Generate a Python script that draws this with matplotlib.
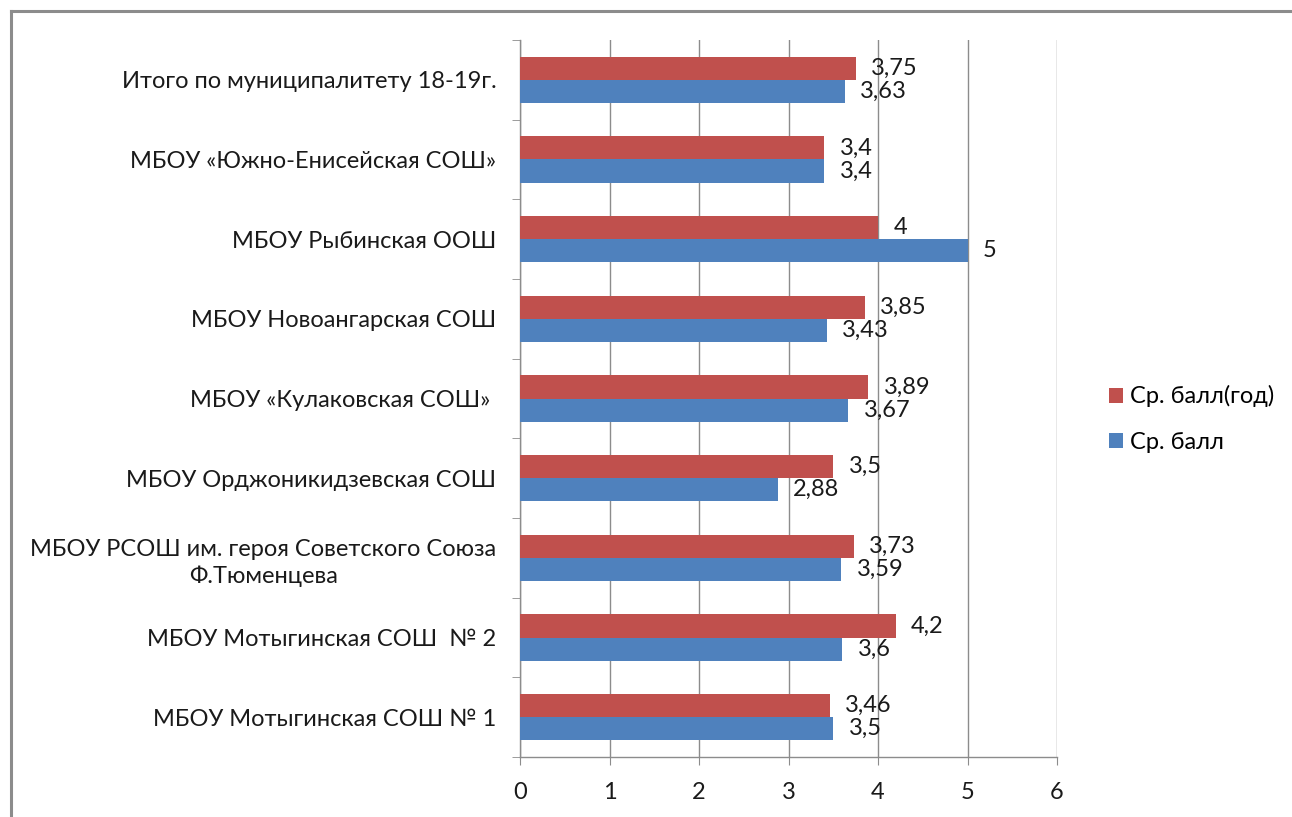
import matplotlib
matplotlib.use("Agg")
import matplotlib.pyplot as plt
from matplotlib.lines import Line2D
import numpy as np

categories = [
    "МБОУ Мотыгинская СОШ № 1",
    "МБОУ Мотыгинская СОШ  № 2",
    "МБОУ РСОШ им. героя Советского Союза\nФ.Тюменцева",
    "МБОУ Орджоникидзевская СОШ",
    "МБОУ «Кулаковская СОШ» ",
    "МБОУ Новоангарская СОШ",
    "МБОУ Рыбинская ООШ",
    "МБОУ «Южно-Енисейская СОШ»",
    "Итого по муниципалитету 18-19г.",
]
year_avg = [3.46, 4.2, 3.73, 3.5, 3.89, 3.85, 4, 3.4, 3.75]
avg = [3.5, 3.6, 3.59, 2.88, 3.67, 3.43, 5, 3.4, 3.63]
year_labels = ["3,46", "4,2", "3,73", "3,5", "3,89", "3,85", "4", "3,4", "3,75"]
avg_labels = ["3,5", "3,6", "3,59", "2,88", "3,67", "3,43", "5", "3,4", "3,63"]
series_names = ["Ср. балл(год)", "Ср. балл"]
xticks = [0, 1, 2, 3, 4, 5, 6]

RED = "#C0504D"
BLUE = "#4F81BD"
GRID = "#8C8C8C"
TXT = "#1a1a1a"
FS = 17

plt.rcParams['font.family'] = ['Lato', 'DejaVu Sans']

W, H = 1292, 817
fig = plt.figure(figsize=(W / 100, H / 100), dpi=100)
ax = fig.add_axes([520 / W, 1 - 757 / H, (1057 - 520) / W, (757 - 40) / H])

y = np.arange(len(categories))
h = 0.29
b1 = ax.barh(y + h / 2, year_avg, height=h, color=RED, label=series_names[0], zorder=3)
b2 = ax.barh(y - h / 2, avg, height=h, color=BLUE, label=series_names[1], zorder=3)

for yi, v, t in zip(y, year_avg, year_labels):
    ax.annotate(t, (v, yi + h / 2), xytext=(11, 0), textcoords="offset points",
                ha="left", va="center", fontsize=FS, color=TXT, zorder=4)
for yi, v, t in zip(y, avg, avg_labels):
    ax.annotate(t, (v, yi - h / 2), xytext=(11, 0), textcoords="offset points",
                ha="left", va="center", fontsize=FS, color=TXT, zorder=4)

ax.set_xlim(0, 6)
ax.set_ylim(-0.5, len(categories) - 0.5)
ax.set_xticks(xticks)
ax.set_xticklabels([str(t) for t in xticks], fontsize=FS, color=TXT)
ax.set_yticks(y)
ax.set_yticklabels(categories, fontsize=FS, color=TXT, multialignment="center",
                   linespacing=1.35)
ax.set_yticks(np.arange(-0.5, len(categories), 1.0), minor=True)
ax.tick_params(axis="y", which="major", length=0, pad=17)
ax.tick_params(axis="y", which="minor", length=6, color=GRID, direction="out")
ax.tick_params(axis="x", which="major", length=6, color=GRID, direction="out", pad=12)

ax.grid(axis="x", color=GRID, linewidth=1, zorder=0)
for s in ["top", "right"]:
    ax.spines[s].set_visible(False)
for s in ["left", "bottom"]:
    ax.spines[s].set_color(GRID)
    ax.spines[s].set_linewidth(1)

leg = fig.legend(handles=[b1, b2], labels=series_names, loc="upper left",
                 bbox_to_anchor=(1088 / W, 1 - 364 / H), frameon=False, fontsize=FS,
                 handlelength=0.6, handleheight=0.6, handletextpad=0.3,
                 labelspacing=1.05)

fig.add_artist(Line2D([11 / W, 11 / W], [0, 1 - 11 / H], color=GRID, linewidth=2.2,
                      transform=fig.transFigure))
fig.add_artist(Line2D([11 / W, 1], [1 - 11 / H, 1 - 11 / H], color=GRID, linewidth=2.2,
                      transform=fig.transFigure))

fig.savefig("out.png", dpi=100)
